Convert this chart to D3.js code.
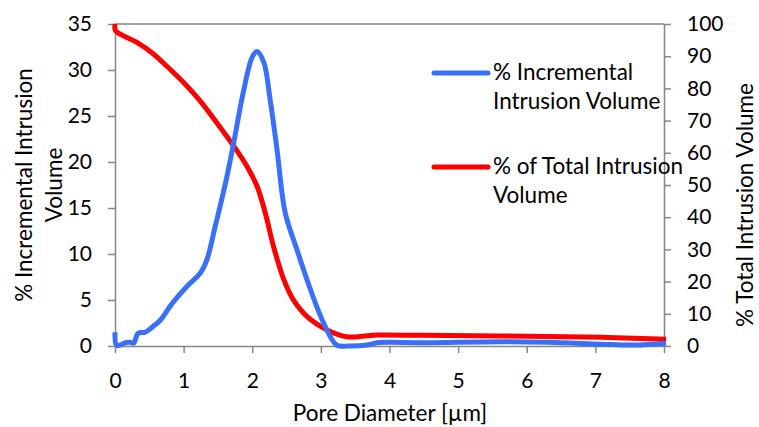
<!DOCTYPE html>
<html>
<head>
<meta charset="utf-8">
<script src="https://cdn.jsdelivr.net/npm/d3@7"></script>
<style>
  body { margin: 0; background: #fff; }
  text { font-family: Lato, "Open Sans", sans-serif; fill: #000; }
</style>
</head>
<body>
<svg id="chart" width="759" height="427"></svg>
<script>
// Pore diameter [um] vs % incremental intrusion volume (left axis)
const incDiameter = [0, 0.02, 0.07, 0.15, 0.22, 0.27, 0.34, 0.44, 0.55, 0.66, 0.83, 1.05, 1.24, 1.34, 1.46, 1.61,
  1.73, 1.87, 2.0, 2.07, 2.17, 2.26, 2.36, 2.48, 2.65, 2.85, 3.04, 3.23, 3.4, 3.67, 3.82, 4.5, 5.62, 6.3, 7.08, 7.56, 8.03];
const incVolume = [1.5, 0.1, 0.1, 0.35, 0.4, 0.3, 1.4, 1.5, 2.1, 2.8, 4.6, 6.5, 7.9, 9.4, 13, 17.7,
  22.1, 27.6, 31.4, 32.0, 30.8, 26.8, 21.4, 14.5, 10.5, 6.1, 2.5, 0.1, 0, 0.1, 0.35, 0.35, 0.45, 0.4, 0.2, 0.1, 0.3];

// Pore diameter [um] vs % of total intrusion volume (right axis)
const totDiameter = [0, 0.005, 0.07, 0.32, 0.56, 0.75, 1.0, 1.24, 1.48, 1.73, 1.92, 2.07, 2.19, 2.31, 2.46, 2.6,
  2.8, 3.09, 3.38, 3.6, 3.82, 4.5, 5.62, 7.08, 8.03];
const totVolume = [100, 98, 96.9, 94.3, 90.7, 87.0, 81.8, 76.1, 69.4, 62.1, 55.9, 49.6, 41.3, 30.9, 20.6, 14.3,
  9.1, 5.0, 2.9, 3.0, 3.4, 3.3, 3.1, 2.7, 2.1];

const xTicks = [0, 1, 2, 3, 4, 5, 6, 7, 8];
const yLeftTicks = [0, 5, 10, 15, 20, 25, 30, 35];
const yRightTicks = [0, 10, 20, 30, 40, 50, 60, 70, 80, 90, 100];

const seriesNames = ["% Incremental\nIntrusion Volume", "% of Total Intrusion\nVolume"];
const seriesColors = ["#3a6ff7", "#ff0000"];

const svg = d3.select("#chart");
const plotLeft = 115, plotRight = 664, plotTop = 24, plotBottom = 346;
const axisColor = "#868686";
const tickFont = "21px";
const titleFont = "22.5px";

const x = d3.scaleLinear().domain([0, 8]).range([plotLeft, plotRight]);
const yL = d3.scaleLinear().domain([0, 35]).range([plotBottom, plotTop]);
const yR = d3.scaleLinear().domain([0, 100]).range([plotBottom, plotTop]);

// Top border
svg.append("line")
  .attr("x1", plotLeft).attr("x2", plotRight)
  .attr("y1", plotTop).attr("y2", plotTop)
  .attr("stroke", axisColor).attr("stroke-width", 1.5);

function styleAxis(g) {
  g.selectAll(".domain").attr("stroke", axisColor).attr("stroke-width", 1.5);
  g.selectAll(".tick line").attr("stroke", axisColor).attr("stroke-width", 1.5);
  g.selectAll(".tick text").style("font-size", tickFont).attr("fill", "#000");
}

// X axis
svg.append("g")
  .attr("transform", `translate(0,${plotBottom})`)
  .call(d3.axisBottom(x).tickValues(xTicks).tickSize(7).tickSizeOuter(0).tickPadding(20))
  .call(styleAxis);

// Left axis
svg.append("g")
  .attr("transform", `translate(${plotLeft},0)`)
  .call(d3.axisLeft(yL).tickValues(yLeftTicks).tickSize(7).tickSizeOuter(0).tickPadding(16))
  .call(styleAxis);

// Right axis
svg.append("g")
  .attr("transform", `translate(${plotRight},0)`)
  .call(d3.axisRight(yR).tickValues(yRightTicks).tickSize(7).tickSizeOuter(0).tickPadding(16))
  .call(styleAxis);

// Axis titles
svg.append("text")
  .attr("x", 390).attr("y", 421)
  .attr("text-anchor", "middle")
  .style("font-size", titleFont)
  .text("Pore Diameter [µm]");

const leftTitle = svg.append("text")
  .attr("transform", "translate(32,185) rotate(-90)")
  .attr("text-anchor", "middle")
  .style("font-size", titleFont);
leftTitle.append("tspan").attr("x", 0).attr("y", 0).text("% Incremental Intrusion");
leftTitle.append("tspan").attr("x", 0).attr("y", 30).text("Volume");

svg.append("text")
  .attr("transform", "translate(753,205) rotate(-90)")
  .attr("text-anchor", "middle")
  .style("font-size", titleFont)
  .text("% Total Intrusion Volume");

// Lines
const curve = d3.curveCatmullRom.alpha(0.5);

const totLine = d3.line()
  .x(i => x(totDiameter[i]))
  .y(i => yR(totVolume[i]))
  .curve(curve);

const incLine = d3.line()
  .x(i => x(incDiameter[i]))
  .y(i => yL(incVolume[i]))
  .curve(curve);

svg.append("path")
  .attr("d", totLine(d3.range(totDiameter.length)))
  .attr("fill", "none")
  .attr("stroke", seriesColors[1])
  .attr("stroke-width", 5)
  .attr("stroke-linejoin", "round");

svg.append("path")
  .attr("d", incLine(d3.range(incDiameter.length)))
  .attr("fill", "none")
  .attr("stroke", seriesColors[0])
  .attr("stroke-width", 5)
  .attr("stroke-linejoin", "round");

// Legend
const legendY = [73, 167];
seriesNames.forEach((name, i) => {
  svg.append("line")
    .attr("x1", 434).attr("x2", 488)
    .attr("y1", legendY[i]).attr("y2", legendY[i])
    .attr("stroke", seriesColors[i])
    .attr("stroke-width", 5)
    .attr("stroke-linecap", "round");
  const t = svg.append("text")
    .attr("x", 493)
    .style("font-size", titleFont);
  name.split("\n").forEach((line, j) => {
    t.append("tspan")
      .attr("x", 493)
      .attr("y", legendY[i] + 7 + j * 29)
      .text(line);
  });
});
</script>
</body>
</html>
